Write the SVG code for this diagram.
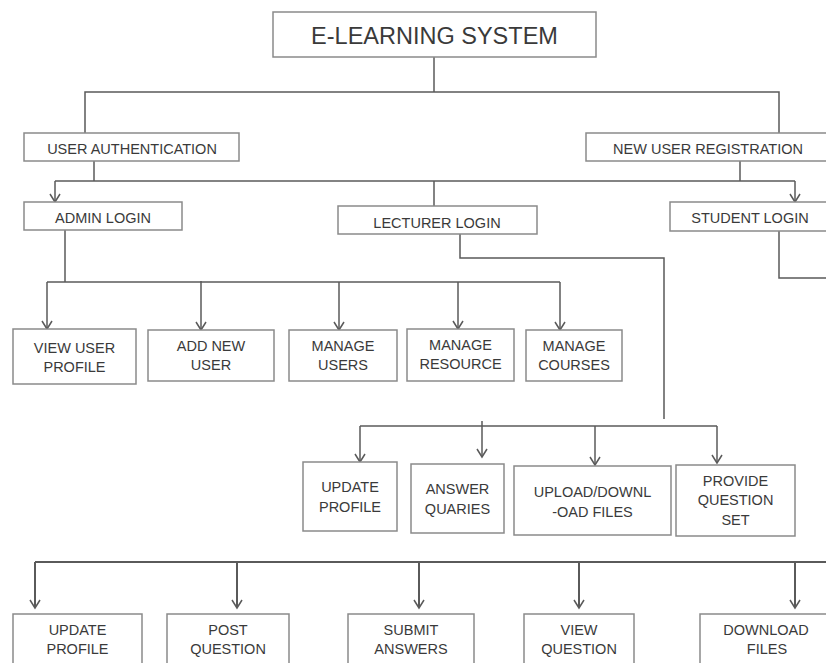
<svg xmlns="http://www.w3.org/2000/svg" width="826" height="663" viewBox="0 0 826 663">
<style>
  .box { fill: #ffffff; stroke: #8a8a8a; stroke-width: 1.5; }
  .lbl { font-family: "Liberation Sans", Arial, sans-serif; font-size: 14.5px; fill: #3a3a3a; text-anchor: middle; }
  .title { font-family: "Liberation Sans", Arial, sans-serif; font-size: 23.5px; fill: #3a3a3a; text-anchor: middle; }
  .ln { fill: none; stroke: #5a5a5a; stroke-width: 1.5; }
  .ln2 { fill: none; stroke: #5a5a5a; stroke-width: 2; }
  .ar { fill: none; stroke: #5a5a5a; stroke-width: 1.5; marker-end: url(#arr); }
  .ar2 { fill: none; stroke: #5a5a5a; stroke-width: 2; marker-end: url(#arr); }
</style>
<defs>
  <marker id="arr" markerUnits="userSpaceOnUse" markerWidth="12" markerHeight="12" refX="10" refY="6" orient="auto" viewBox="0 0 12 12">
    <path d="M2,1 L10,6 L2,11" fill="none" stroke="#5a5a5a" stroke-width="1.5"/>
  </marker>
</defs>
<rect width="826" height="663" fill="#ffffff"/>

<g id="connectors">
  <path class="ln" d="M434,57 V92"/>
  <path class="ln" d="M85,133 V92 H779 V133"/>
  <path class="ln" d="M94,161 V181"/>
  <path class="ln" d="M740,161 V181"/>
  <path class="ln" d="M55,181 H795"/>
  <path class="ar" d="M55,181 V202"/>
  <path class="ar" d="M795,181 V202"/>
  <path class="ln" d="M434,181 V206"/>
  <path class="ln" d="M65,230 V282"/>
  <path class="ln" d="M47,282 H560"/>
  <path class="ar" d="M47,282 V329"/>
  <path class="ar" d="M201,281 V330"/>
  <path class="ar" d="M339,282 V330"/>
  <path class="ar" d="M458,282 V329"/>
  <path class="ar" d="M560,282 V330"/>
  <path class="ln" d="M460,234 V258 H664 V419"/>
  <path class="ln" d="M360,426 H717"/>
  <path class="ar" d="M360,426 V462"/>
  <path class="ar" d="M482,421 V457"/>
  <path class="ar" d="M595,426 V465"/>
  <path class="ar" d="M717,426 V463"/>
  <path class="ln" d="M779,231 V278 H826"/>
  <path class="ln2" d="M35,562 H826"/>
  <path class="ar2" d="M35,562 V608"/>
  <path class="ar2" d="M237,562 V608"/>
  <path class="ar2" d="M419,562 V608"/>
  <path class="ar2" d="M579,562 V608"/>
  <path class="ar2" d="M795,562 V608"/>
</g>

<g id="e-learning-system">
  <rect class="box" x="273" y="12" width="323" height="45"/>
  <text class="title" x="434.5" y="44">E-LEARNING SYSTEM</text>
</g>
<g id="user-authentication">
  <rect class="box" x="24" y="133" width="215" height="28"/>
  <text class="lbl" x="132" y="154">USER AUTHENTICATION</text>
</g>
<g id="new-user-registration">
  <rect class="box" x="586" y="133" width="246" height="28"/>
  <text class="lbl" x="708" y="154">NEW USER REGISTRATION</text>
</g>
<g id="admin-login">
  <rect class="box" x="24" y="202" width="158" height="28"/>
  <text class="lbl" x="103" y="223">ADMIN LOGIN</text>
</g>
<g id="lecturer-login">
  <rect class="box" x="338" y="206" width="199" height="28"/>
  <text class="lbl" x="437" y="228">LECTURER LOGIN</text>
</g>
<g id="student-login">
  <rect class="box" x="670" y="202" width="162" height="29"/>
  <text class="lbl" x="750" y="223">STUDENT LOGIN</text>
</g>

<g id="view-user-profile">
  <rect class="box" x="13" y="329" width="123" height="55"/>
  <text class="lbl" x="74.5" y="353">VIEW USER</text>
  <text class="lbl" x="74.5" y="372">PROFILE</text>
</g>
<g id="add-new-user">
  <rect class="box" x="148" y="330" width="126" height="51"/>
  <text class="lbl" x="211" y="351">ADD NEW</text>
  <text class="lbl" x="211" y="370">USER</text>
</g>
<g id="manage-users">
  <rect class="box" x="289" y="330" width="108" height="51"/>
  <text class="lbl" x="343" y="351">MANAGE</text>
  <text class="lbl" x="343" y="370">USERS</text>
</g>
<g id="manage-resource">
  <rect class="box" x="407" y="329" width="107" height="52"/>
  <text class="lbl" x="460.5" y="350">MANAGE</text>
  <text class="lbl" x="460.5" y="369">RESOURCE</text>
</g>
<g id="manage-courses">
  <rect class="box" x="526" y="330" width="96" height="51"/>
  <text class="lbl" x="574" y="351">MANAGE</text>
  <text class="lbl" x="574" y="370">COURSES</text>
</g>

<g id="lecturer-update-profile">
  <rect class="box" x="303" y="462" width="94" height="69"/>
  <text class="lbl" x="350" y="492">UPDATE</text>
  <text class="lbl" x="350" y="512">PROFILE</text>
</g>
<g id="answer-quaries">
  <rect class="box" x="411" y="464" width="93" height="69"/>
  <text class="lbl" x="457.5" y="494">ANSWER</text>
  <text class="lbl" x="457.5" y="514">QUARIES</text>
</g>
<g id="upload-download-files">
  <rect class="box" x="514" y="466" width="157" height="69"/>
  <text class="lbl" x="592.5" y="497">UPLOAD/DOWNL</text>
  <text class="lbl" x="592.5" y="517">-OAD FILES</text>
</g>
<g id="provide-question-set">
  <rect class="box" x="676" y="465" width="119" height="71"/>
  <text class="lbl" x="735.5" y="486">PROVIDE</text>
  <text class="lbl" x="735.5" y="505">QUESTION</text>
  <text class="lbl" x="735.5" y="525">SET</text>
</g>

<g id="student-update-profile">
  <rect class="box" x="13" y="614" width="129" height="70"/>
  <text class="lbl" x="77.5" y="635">UPDATE</text>
  <text class="lbl" x="77.5" y="654">PROFILE</text>
</g>
<g id="post-question">
  <rect class="box" x="167" y="614" width="122" height="70"/>
  <text class="lbl" x="228" y="635">POST</text>
  <text class="lbl" x="228" y="654">QUESTION</text>
</g>
<g id="submit-answers">
  <rect class="box" x="348" y="614" width="126" height="70"/>
  <text class="lbl" x="411" y="635">SUBMIT</text>
  <text class="lbl" x="411" y="654">ANSWERS</text>
</g>
<g id="view-question">
  <rect class="box" x="524" y="614" width="110" height="70"/>
  <text class="lbl" x="579" y="635">VIEW</text>
  <text class="lbl" x="579" y="654">QUESTION</text>
</g>
<g id="download-files">
  <rect class="box" x="700" y="614" width="132" height="70"/>
  <text class="lbl" x="766" y="635">DOWNLOAD</text>
  <text class="lbl" x="767" y="654">FILES</text>
</g>
</svg>
